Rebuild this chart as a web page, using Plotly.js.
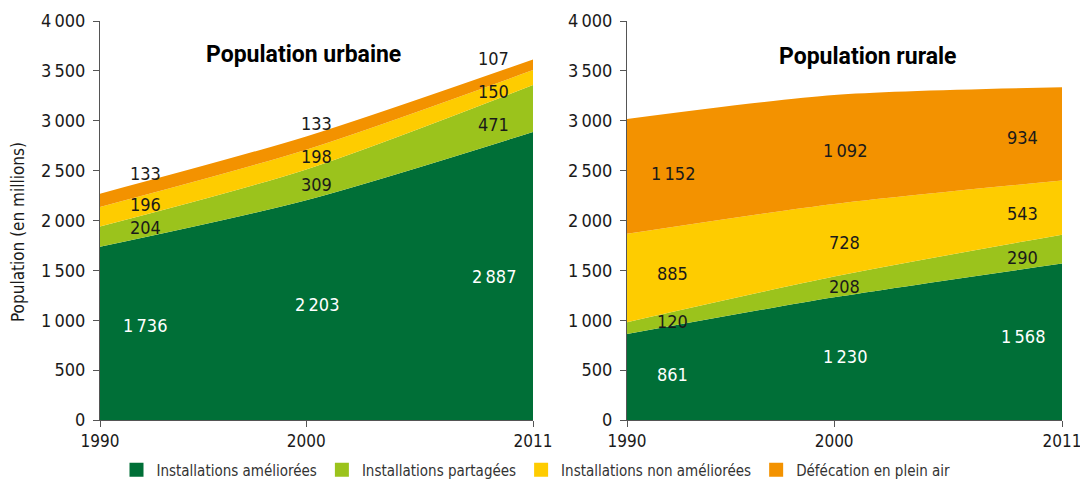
<!DOCTYPE html>
<html>
<head>
<meta charset="utf-8">
<script src="https://cdn.plot.ly/plotly-3.0.1.min.js"></script>
<style>
  html, body { margin: 0; padding: 0; background: #fff; }
  #chart { width: 1080px; height: 481px; }
</style>
</head>
<body>
<div id="chart"></div>
<script>
// Données (millions)
const years = [1990, 2000, 2011];
const seriesNames = ['Installations améliorées', 'Installations partagées', 'Installations non améliorées', 'Défécation en plein air'];
const seriesColors = ['#006f37', '#9bc31c', '#fecc00', '#f39200'];

const urbAmeliorees = [1736, 2203, 2887];
const urbPartagees = [204, 309, 471];
const urbNonAmeliorees = [196, 198, 150];
const urbPleinAir = [133, 133, 107];

const rurAmeliorees = [861, 1230, 1568];
const rurPartagees = [120, 208, 290];
const rurNonAmeliorees = [885, 728, 543];
const rurPleinAir = [1152, 1092, 934];

const yTicks = [0, 500, 1000, 1500, 2000, 2500, 3000, 3500, 4000];

// position des étiquettes (x par année, y par série)
const labelX = [1992.2, 2000.5, 2009.1];
const urbLabelY = [
  [952, 1153, 1434],
  [1925, 2356, 2967],
  [2165, 2637, 3298],
  [2476, 2977, 3629]
];
const rurLabelY = [
  [461, 632, 842],
  [992, 1343, 1634],
  [1464, 1784, 2075],
  [2476, 2697, 2837]
];

const FONT = 'Liberation Sans Narrow, DejaVu Sans Condensed, Roboto, sans-serif';
const W = 1080, H = 481, MR = 18;
const PW = W - MR;

function fmt(v) {
  return v >= 1000 ? Math.floor(v / 1000) + '\u2009' + String(v % 1000).padStart(3, '0') : String(v);
}

const urban = [urbAmeliorees, urbPartagees, urbNonAmeliorees, urbPleinAir];
const rural = [rurAmeliorees, rurPartagees, rurNonAmeliorees, rurPleinAir];

const traces = [];
function addGroup(data, xa, ya, group) {
  data.forEach((vals, i) => {
    traces.push({
      x: years,
      y: vals,
      xaxis: xa,
      yaxis: ya,
      type: 'scatter',
      mode: 'lines',
      stackgroup: group,
      name: seriesNames[i],
      showlegend: false,
      line: { width: 0, shape: 'spline', smoothing: 0.8 },
      fillcolor: seriesColors[i],
      hoverinfo: 'skip'
    });
  });
}
addGroup(urban, 'x', 'y', 'u');
addGroup(rural, 'x2', 'y2', 'r');

// entrées de légende (carrés)
seriesNames.forEach((name, i) => {
  traces.push({
    x: [null], y: [null], type: 'scatter', mode: 'markers',
    name: name, showlegend: true,
    marker: { symbol: 'square', size: 14, color: seriesColors[i] }
  });
});

const annotations = [];
function addLabels(data, pos, xref, yref) {
  data.forEach((vals, i) => {
    vals.forEach((v, j) => {
      annotations.push({
        x: labelX[j], y: pos[i][j], xref: xref, yref: yref,
        text: fmt(v), showarrow: false,
        font: { family: FONT, size: 18, color: i === 0 ? '#ffffff' : '#1a1a1a' }
      });
    });
  });
}
addLabels(urban, urbLabelY, 'x', 'y');
addLabels(rural, rurLabelY, 'x2', 'y2');

const titleFont = { family: 'Roboto, sans-serif', size: 23, color: '#000' };
annotations.push({
  x: (303 - 100) / 433, y: (420 - 55) / 399, xref: 'x domain', yref: 'y domain',
  xanchor: 'center', yanchor: 'middle', showarrow: false,
  text: '<b>Population urbaine</b>', font: titleFont
});
annotations.push({
  x: (868 - 627) / 435, y: (420 - 57) / 399, xref: 'x2 domain', yref: 'y2 domain',
  xanchor: 'center', yanchor: 'middle', showarrow: false,
  text: '<b>Population rurale</b>', font: titleFont
});
annotations.push({
  x: 18 / PW, y: (H - 232) / H, xref: 'paper', yref: 'paper', showarrow: false,
  xanchor: 'center', yanchor: 'middle',
  textangle: -90, text: 'Population (en millions)',
  font: { family: FONT, size: 17, color: '#1a1a1a' }
});

const xAxisBase = {
  range: [1990, 2011],
  tickvals: years,
  ticks: 'outside', ticklen: 6, tickcolor: '#555',
  showline: true, linecolor: '#555', linewidth: 1,
  showgrid: false, zeroline: false,
  automargin: false,
  ticklabeloverflow: 'allow',
  tickfont: { family: FONT, size: 17, color: '#1a1a1a' },
  fixedrange: true
};
const yAxisBase = {
  range: [0, 4000],
  tickvals: yTicks,
  ticks: 'outside', ticklen: 6, tickcolor: '#555',
  showline: true, linecolor: '#555', linewidth: 1,
  showgrid: false, zeroline: false,
  automargin: false,
  ticklabelstandoff: 4,
  tickformat: ',d',
  tickfont: { family: FONT, size: 18, color: '#1a1a1a' },
  fixedrange: true
};

const yDom = [(H - 420) / H, (H - 21) / H];

const layout = {
  width: W,
  height: H,
  margin: { l: 0, r: MR, t: 0, b: 0, autoexpand: false },
  paper_bgcolor: '#ffffff',
  plot_bgcolor: '#ffffff',
  separators: ',\u2009',
  showlegend: true,
  legend: {
    orientation: 'h', x: 536 / W, xanchor: 'center', xref: 'container',
    y: 11 / H, yanchor: 'middle', yref: 'container',
    bgcolor: 'rgba(0,0,0,0)',
    font: { family: FONT, size: 15, color: '#333' },
    traceorder: 'normal', itemwidth: 30
  },
  xaxis: Object.assign({}, xAxisBase, { domain: [100 / PW, 533 / PW], anchor: 'y' }),
  yaxis: Object.assign({}, yAxisBase, { domain: yDom, anchor: 'x' }),
  xaxis2: Object.assign({}, xAxisBase, { domain: [627 / PW, 1], anchor: 'y2' }),
  yaxis2: Object.assign({}, yAxisBase, { domain: yDom, anchor: 'x2' }),
  annotations: annotations
};

Plotly.newPlot('chart', traces, layout, { displayModeBar: false, staticPlot: true });
</script>
</body>
</html>
